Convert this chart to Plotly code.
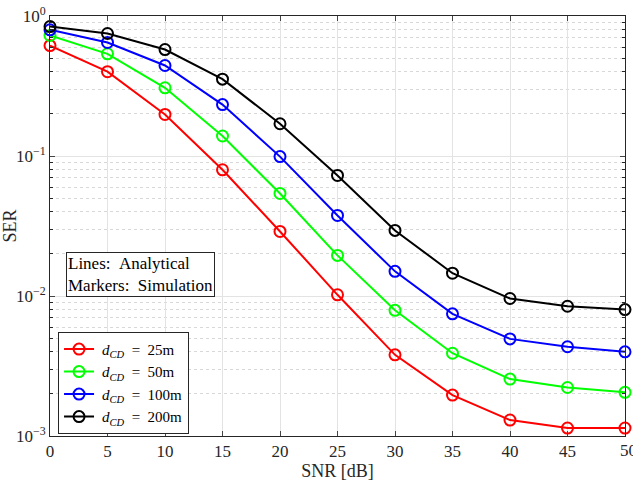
import plotly.graph_objects as go

snr = [0, 5, 10, 15, 20, 25, 30, 35, 40, 45, 50]
ser_25 = [0.615, 0.40, 0.198, 0.0797, 0.0289, 0.0102, 0.0038, 0.00196, 0.0013, 0.00114, 0.00114]
ser_50 = [0.726, 0.537, 0.307, 0.139, 0.054, 0.0195, 0.0079, 0.0039, 0.00255, 0.00222, 0.00205]
ser_100 = [0.797, 0.647, 0.443, 0.233, 0.099, 0.0376, 0.0150, 0.00746, 0.00494, 0.00434, 0.00399]
ser_200 = [0.841, 0.75, 0.576, 0.354, 0.17, 0.0726, 0.0294, 0.01455, 0.0096, 0.00845, 0.0080]

labels = ["25m", "50m", "100m", "200m"]
colors = ["#ff0000", "#00ff00", "#0000ff", "#000000"]
series = [ser_25, ser_50, ser_100, ser_200]

ytick_vals = [1e-3, 1e-2, 1e-1, 1]
ytick_text = ["10<sup>−3</sup>", "10<sup>−2</sup>", "10<sup>−1</sup>", "10<sup>0</sup>"]
xtick_vals = snr
xtick_text = [str(v) for v in snr]

FONT = "Liberation Serif"

fig = go.Figure()
for lab, col, ys in zip(labels, colors, series):
    fig.add_trace(go.Scatter(
        x=snr, y=ys, mode="lines+markers",
        name="\u2009<i>d</i><sub><i>CD</i></sub>\u2002=\u2002" + lab,
        line=dict(color=col, width=2),
        marker=dict(symbol="circle-open", size=11, color=col, line=dict(width=2, color=col)),
        cliponaxis=False,
    ))

minor_vals = [m * 10 ** e for e in (-3, -2, -1) for m in range(2, 10)]

fig.update_layout(
    width=633, height=484,
    margin=dict(l=50, r=8, t=16, b=48),
    paper_bgcolor="white", plot_bgcolor="white",
    font=dict(family=FONT, size=17, color="#262626"),
    showlegend=True,
    legend=dict(
        x=0.014, y=0.248, xanchor="left", yanchor="top",
        bordercolor="#262626", borderwidth=1, bgcolor="white",
        font=dict(family=FONT, size=15, color="#000000"),
        tracegroupgap=0, itemwidth=30,
    ),
    xaxis=dict(
        range=[0, 50], tickvals=xtick_vals[:-1], ticktext=xtick_text[:-1],
        ticks="inside", ticklen=5,
        showline=True, linecolor="#262626", linewidth=1, mirror="ticks",
        showgrid=True, gridcolor="#e3e3e3", gridwidth=1, zeroline=False,
        automargin=False,
        title=dict(text="SNR [dB]", font=dict(size=18), standoff=2),
        tickfont=dict(size=17),
    ),
    yaxis=dict(
        type="log", range=[-3, 0], tickvals=ytick_vals, ticktext=ytick_text,
        ticks="inside", ticklen=5,
        showline=True, linecolor="#262626", linewidth=1, mirror="ticks",
        showgrid=True, gridcolor="#e3e3e3", gridwidth=1, zeroline=False,
        automargin=False,
        title=dict(text="SER", font=dict(size=18), standoff=4),
        tickfont=dict(size=17),
        minor=dict(tickvals=minor_vals, ticks="inside", ticklen=3, tickcolor="#262626",
                   showgrid=True, gridcolor="#d8d8d8", griddash="dot", gridwidth=1),
    ),
)

# last x tick label (at the right edge as in the reference)
fig.add_annotation(
    xref="x", yref="paper", x=xtick_vals[-1], y=0, yanchor="top", xanchor="center",
    yshift=-3, xshift=3, text=xtick_text[-1], showarrow=False,
    font=dict(family=FONT, size=17, color="#262626"),
)

fig.add_annotation(
    xref="paper", yref="paper", x=0.028, y=0.438, xanchor="left", yanchor="top",
    text="Lines:\u2002Analytical<br>Markers:\u2002Simulation", showarrow=False, align="left",
    font=dict(family=FONT, size=17, color="#000000"),
    bordercolor="#262626", borderwidth=1, borderpad=1, bgcolor="white",
)

fig.write_html("out.html", config={"displayModeBar": False},
               post_script="document.body.style.margin='0';document.body.style.padding='0';")
